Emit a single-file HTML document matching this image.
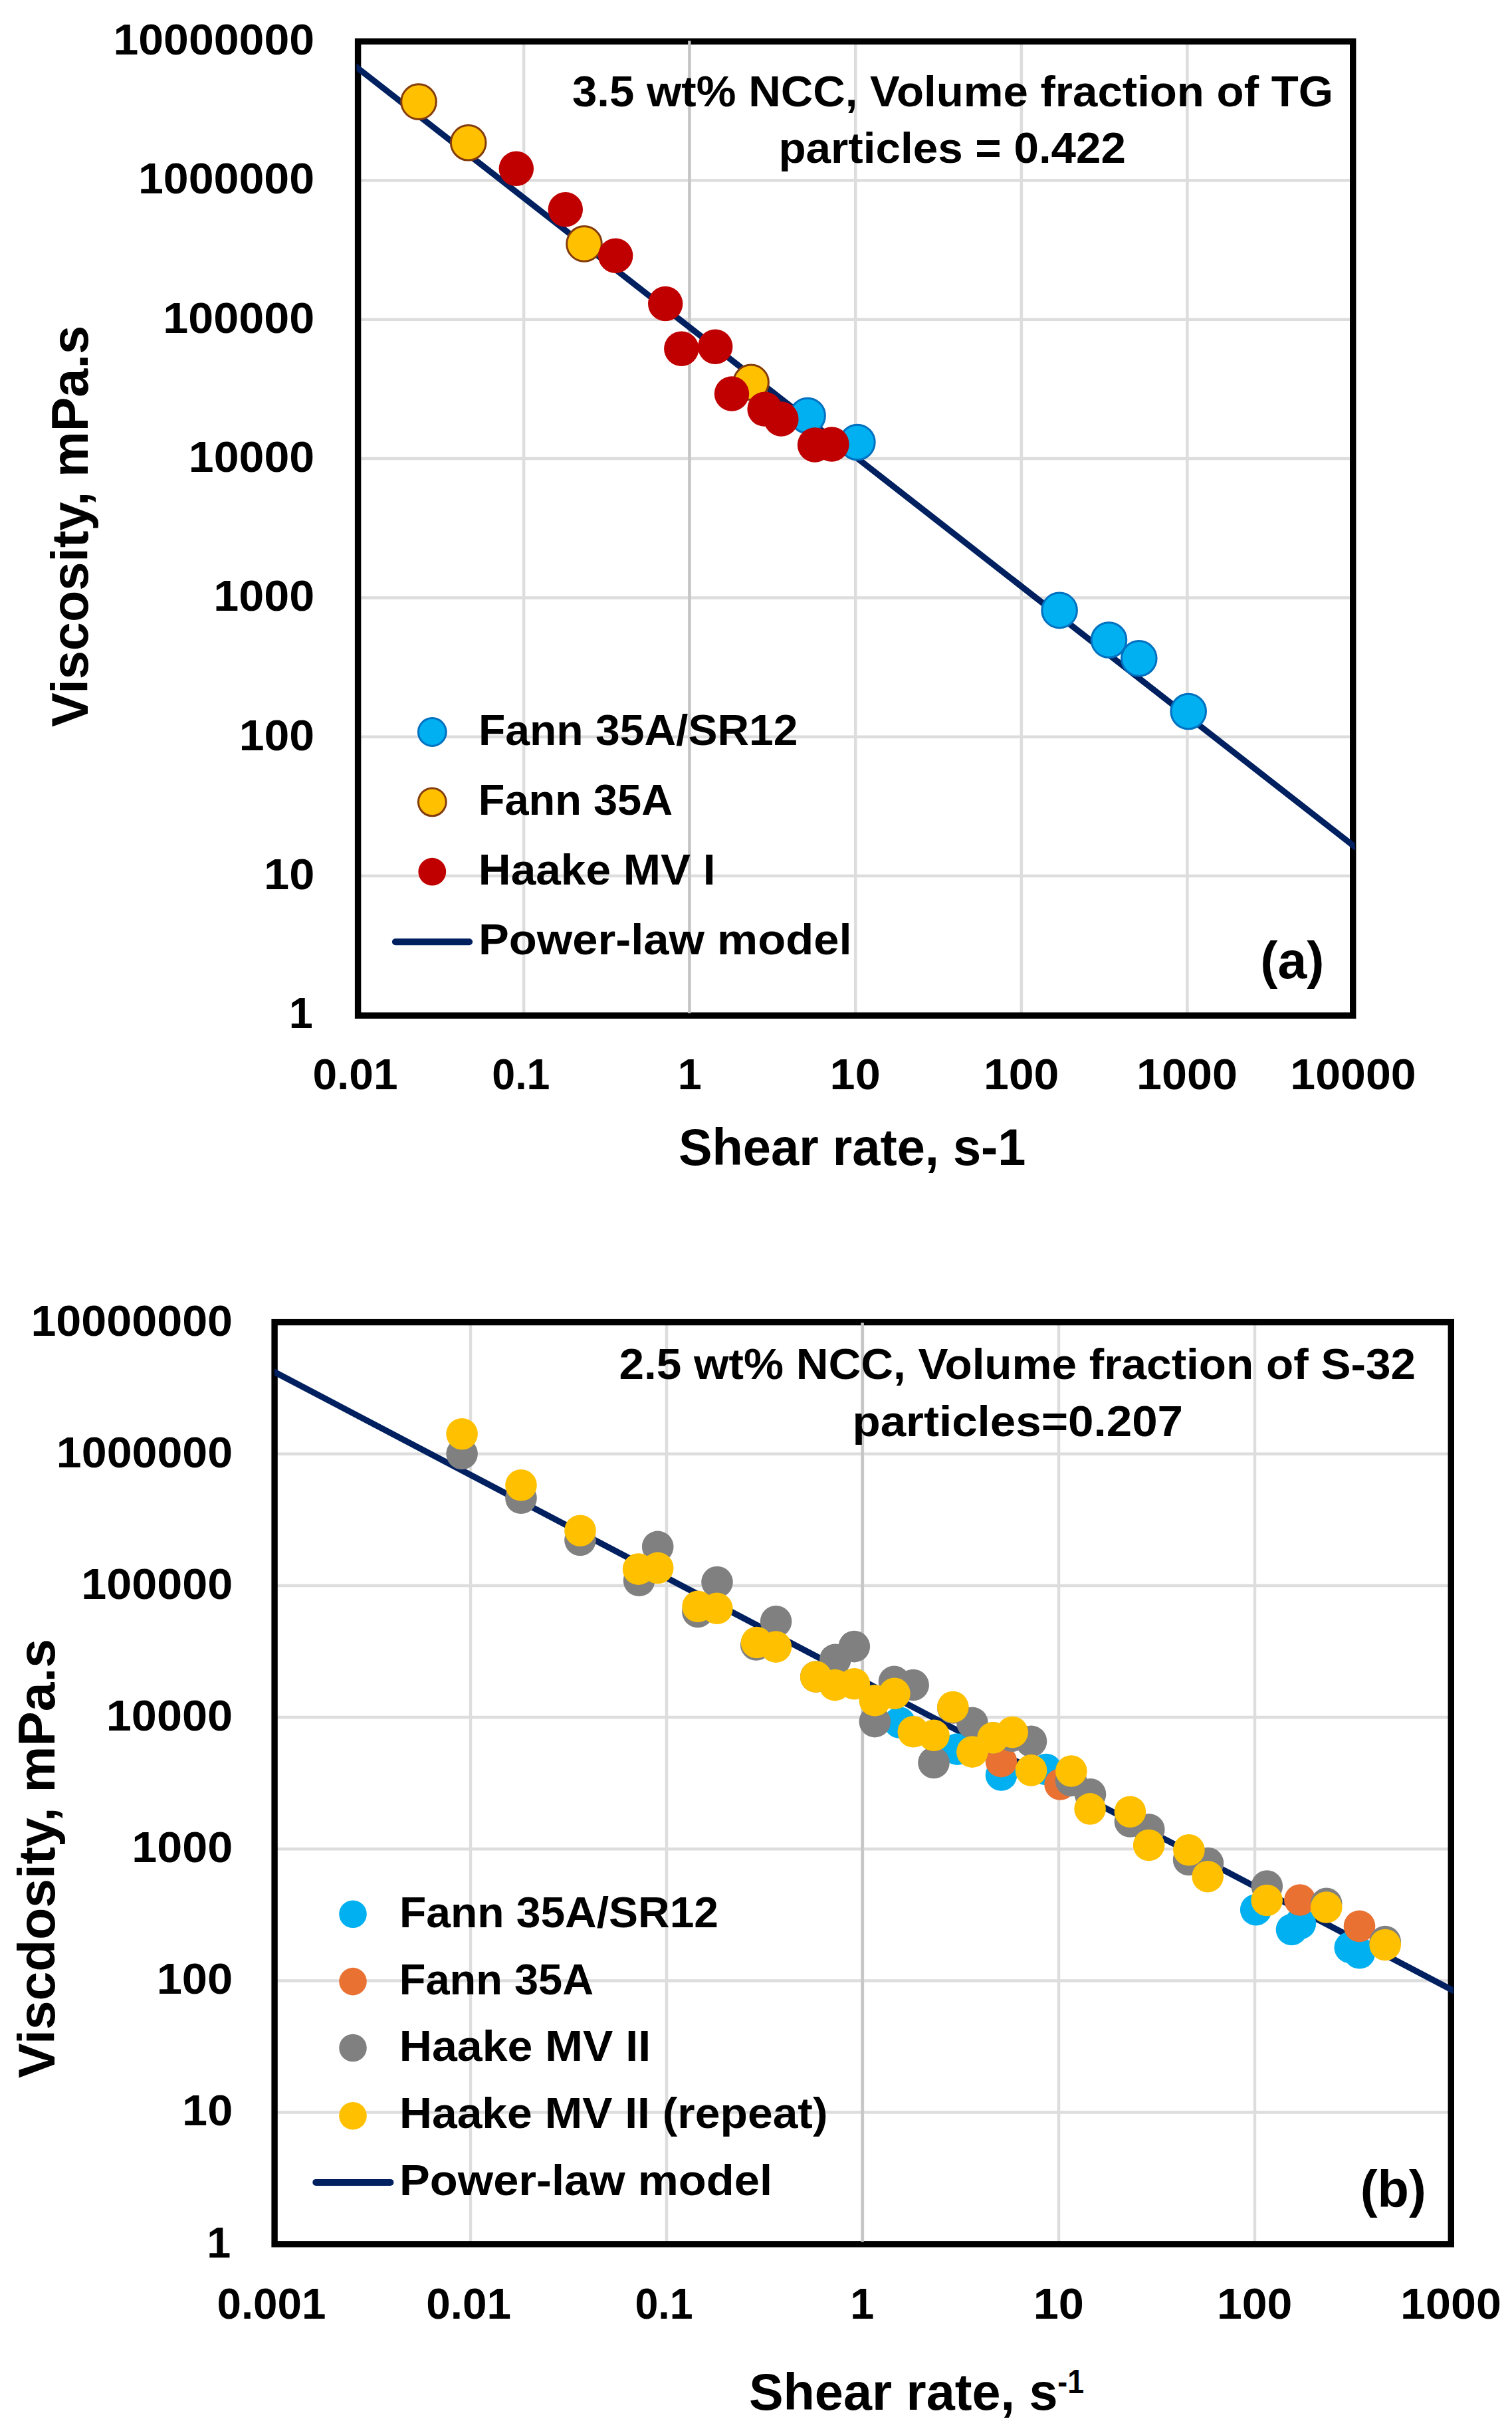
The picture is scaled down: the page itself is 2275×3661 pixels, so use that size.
<!DOCTYPE html>
<html lang="en"><head><meta charset="utf-8"><title>Viscosity vs shear rate</title>
<style>
html,body{margin:0;padding:0;background:#fff}
svg{display:block}
text{font-family:"Liberation Sans", sans-serif;font-weight:bold;fill:#000}
</style></head><body>
<svg width="2275" height="3661" viewBox="0 0 2275 3661">
<rect width="2275" height="3661" fill="#fff"/>
<!-- chart (a) -->
<g stroke="#dddddd" stroke-width="4.5" fill="none">
<line x1="788.1" y1="62" x2="788.1" y2="1527.5"/>
<line x1="1037.7" y1="62" x2="1037.7" y2="1527.5"/>
<line x1="1287.2" y1="62" x2="1287.2" y2="1527.5"/>
<line x1="1536.8" y1="62" x2="1536.8" y2="1527.5"/>
<line x1="1786.4" y1="62" x2="1786.4" y2="1527.5"/>
<line x1="538.5" y1="271.4" x2="2036" y2="271.4"/>
<line x1="538.5" y1="480.7" x2="2036" y2="480.7"/>
<line x1="538.5" y1="690.1" x2="2036" y2="690.1"/>
<line x1="538.5" y1="899.4" x2="2036" y2="899.4"/>
<line x1="538.5" y1="1108.8" x2="2036" y2="1108.8"/>
<line x1="538.5" y1="1318.1" x2="2036" y2="1318.1"/>
</g>
<rect x="538.6" y="62.3" width="1497.1" height="1465.8" fill="none" stroke="#000" stroke-width="9.4"/>
<line x1="1037.3" y1="61.4" x2="1037.3" y2="1524.5" stroke="#c6c6c6" stroke-width="4.3"/>
<clipPath id="ca"><rect x="536.4" y="50" width="1502.3" height="1490"/></clipPath>
<line clip-path="url(#ca)" x1="526.5" y1="93.3" x2="2048" y2="1281.6" stroke="#002060" stroke-width="9.1"/>
<g fill="#00b0f0" stroke="#0070c0" stroke-width="3"><circle cx="1215.1" cy="625.5" r="26.3"/><circle cx="1289.9" cy="665.5" r="26.3"/><circle cx="1594.1" cy="918.4" r="26.3"/><circle cx="1668.5" cy="963" r="26.3"/><circle cx="1713.8" cy="990.8" r="26.3"/><circle cx="1788.2" cy="1070.5" r="26.3"/></g>
<g fill="#ffc000" stroke="#843c0c" stroke-width="3"><circle cx="630" cy="153.1" r="26.3"/><circle cx="704.7" cy="214.8" r="26.3"/><circle cx="879" cy="366.9" r="26.3"/><circle cx="1130.1" cy="575.3" r="26.3"/></g>
<g fill="#c00000"><circle cx="776.8" cy="253.8" r="26.2"/><circle cx="850.8" cy="315.3" r="26.2"/><circle cx="926.2" cy="384.7" r="26.2"/><circle cx="1001.2" cy="457" r="26.2"/><circle cx="1025.3" cy="524.7" r="26.2"/><circle cx="1076.2" cy="521.7" r="26.2"/><circle cx="1101" cy="592.5" r="26.2"/><circle cx="1150.6" cy="615.6" r="26.2"/><circle cx="1175.4" cy="630.5" r="26.2"/><circle cx="1226" cy="669.5" r="26.2"/><circle cx="1251.5" cy="668.5" r="26.2"/></g>
<circle cx="650.3" cy="1101.5" r="20.9" fill="#00b0f0" stroke="#0070c0" stroke-width="3"/>
<circle cx="650.3" cy="1206.8" r="20.9" fill="#ffc000" stroke="#843c0c" stroke-width="3"/>
<circle cx="650.3" cy="1311.7" r="20.9" fill="#c00000"/>
<line x1="594.9" y1="1417.2" x2="706.1" y2="1417.2" stroke="#002060" stroke-width="10" stroke-linecap="round"/>
<!-- chart (b) -->
<g stroke="#dddddd" stroke-width="4.5" fill="none">
<line x1="708" y1="1989.7" x2="708" y2="3376.7"/>
<line x1="1003" y1="1989.7" x2="1003" y2="3376.7"/>
<line x1="1298" y1="1989.7" x2="1298" y2="3376.7"/>
<line x1="1593" y1="1989.7" x2="1593" y2="3376.7"/>
<line x1="1888" y1="1989.7" x2="1888" y2="3376.7"/>
<line x1="413" y1="2187.8" x2="2183" y2="2187.8"/>
<line x1="413" y1="2386" x2="2183" y2="2386"/>
<line x1="413" y1="2584.1" x2="2183" y2="2584.1"/>
<line x1="413" y1="2782.3" x2="2183" y2="2782.3"/>
<line x1="413" y1="2980.4" x2="2183" y2="2980.4"/>
<line x1="413" y1="3178.6" x2="2183" y2="3178.6"/>
</g>
<rect x="413.1" y="1989.6" width="1770.2" height="1387.2" fill="none" stroke="#000" stroke-width="9.4"/>
<line x1="1297.6" y1="1990.5" x2="1297.6" y2="3373.5" stroke="#c6c6c6" stroke-width="4.5"/>
<clipPath id="cb"><rect x="413" y="1980" width="1773.8" height="1410"/></clipPath>
<line clip-path="url(#cb)" x1="401" y1="2058.2" x2="2195" y2="2999.7" stroke="#002060" stroke-width="9.2"/>
<g fill="#00b0f0"><circle cx="1353.5" cy="2592" r="23.8"/><circle cx="1440.4" cy="2632.1" r="23.8"/><circle cx="1506.5" cy="2671" r="23.8"/><circle cx="1574" cy="2662.5" r="23.8"/><circle cx="1889.7" cy="2873.7" r="23.8"/><circle cx="1943.5" cy="2903.5" r="23.8"/><circle cx="1956.4" cy="2894.4" r="23.8"/><circle cx="2031.3" cy="2930.5" r="23.8"/><circle cx="2045.5" cy="2938.8" r="23.8"/></g>
<g fill="#e97132"><circle cx="1506.5" cy="2650.6" r="23.8"/><circle cx="1595.1" cy="2685" r="23.8"/><circle cx="1955.9" cy="2859" r="23.8"/><circle cx="2045.5" cy="2898.4" r="23.8"/></g>
<g fill="#808080"><circle cx="695.1" cy="2187.5" r="23.8"/><circle cx="784" cy="2254.3" r="23.8"/><circle cx="873" cy="2317.4" r="23.8"/><circle cx="961.6" cy="2378.3" r="23.8"/><circle cx="989.7" cy="2327.4" r="23.8"/><circle cx="1049.9" cy="2425.4" r="23.8"/><circle cx="1079" cy="2380.6" r="23.8"/><circle cx="1137.7" cy="2475" r="23.8"/><circle cx="1167.6" cy="2439.8" r="23.8"/><circle cx="1227.7" cy="2523.1" r="23.8"/><circle cx="1256.8" cy="2497.2" r="23.8"/><circle cx="1285.3" cy="2477.6" r="23.8"/><circle cx="1316.3" cy="2590.6" r="23.8"/><circle cx="1345.5" cy="2530.3" r="23.8"/><circle cx="1374.1" cy="2535.5" r="23.8"/><circle cx="1405" cy="2652.4" r="23.8"/><circle cx="1433.8" cy="2570" r="23.8"/><circle cx="1462.9" cy="2592.4" r="23.8"/><circle cx="1494.1" cy="2614.9" r="23.8"/><circle cx="1522.4" cy="2612.3" r="23.8"/><circle cx="1551.5" cy="2620.2" r="23.8"/><circle cx="1611.5" cy="2679.5" r="23.8"/><circle cx="1640.5" cy="2699.8" r="23.8"/><circle cx="1700.4" cy="2741" r="23.8"/><circle cx="1728.8" cy="2752.9" r="23.8"/><circle cx="1788.6" cy="2798.4" r="23.8"/><circle cx="1817.5" cy="2803.5" r="23.8"/><circle cx="1906.3" cy="2838.1" r="23.8"/><circle cx="1995.7" cy="2864.3" r="23.8"/><circle cx="2084.2" cy="2921.5" r="23.8"/></g>
<g fill="#ffc000"><circle cx="695.1" cy="2157.7" r="23.8"/><circle cx="784" cy="2234.8" r="23.8"/><circle cx="873" cy="2303.2" r="23.8"/><circle cx="960.6" cy="2361.1" r="23.8"/><circle cx="989.7" cy="2359.4" r="23.8"/><circle cx="1050.1" cy="2417.3" r="23.8"/><circle cx="1078.8" cy="2420.3" r="23.8"/><circle cx="1138.5" cy="2471.5" r="23.8"/><circle cx="1167.4" cy="2478.1" r="23.8"/><circle cx="1227.7" cy="2523.1" r="23.8"/><circle cx="1256.2" cy="2535.6" r="23.8"/><circle cx="1285.3" cy="2533.7" r="23.8"/><circle cx="1316.3" cy="2558.8" r="23.8"/><circle cx="1345.9" cy="2548.3" r="23.8"/><circle cx="1374.3" cy="2605.8" r="23.8"/><circle cx="1405" cy="2611.3" r="23.8"/><circle cx="1433.8" cy="2568.6" r="23.8"/><circle cx="1462.9" cy="2636.1" r="23.8"/><circle cx="1494.1" cy="2614.9" r="23.8"/><circle cx="1523.2" cy="2606.5" r="23.8"/><circle cx="1551.5" cy="2663.9" r="23.8"/><circle cx="1611.8" cy="2665" r="23.8"/><circle cx="1640.1" cy="2721.9" r="23.8"/><circle cx="1700.4" cy="2726.2" r="23.8"/><circle cx="1728.6" cy="2776.5" r="23.8"/><circle cx="1788.9" cy="2783.8" r="23.8"/><circle cx="1817.2" cy="2823.7" r="23.8"/><circle cx="1906.2" cy="2859.5" r="23.8"/><circle cx="1995.7" cy="2870" r="23.8"/><circle cx="2084.2" cy="2926.5" r="23.8"/></g>
<circle cx="531" cy="2880.2" r="20.8" fill="#00b0f0"/>
<circle cx="531" cy="2981.6" r="20.8" fill="#e97132"/>
<circle cx="531" cy="3081.5" r="20.8" fill="#808080"/>
<circle cx="531" cy="3183.7" r="20.8" fill="#ffc000"/>
<line x1="475.3" y1="3283.9" x2="587.4" y2="3283.9" stroke="#002060" stroke-width="10" stroke-linecap="round"/>
<!-- text -->
<text x="170.42" y="81.8" font-size="64" textLength="302.64" lengthAdjust="spacingAndGlyphs">10000000</text>
<text x="207.9" y="291.16" font-size="64" textLength="265.17" lengthAdjust="spacingAndGlyphs">1000000</text>
<text x="245.37" y="500.51" font-size="64" textLength="227.72" lengthAdjust="spacingAndGlyphs">100000</text>
<text x="283.85" y="709.87" font-size="64" textLength="189.24" lengthAdjust="spacingAndGlyphs">10000</text>
<text x="321.3" y="919.23" font-size="64" textLength="151.83" lengthAdjust="spacingAndGlyphs">1000</text>
<text x="359.73" y="1128.59" font-size="64" textLength="113.43" lengthAdjust="spacingAndGlyphs">100</text>
<text x="397.04" y="1337.94" font-size="64" textLength="76.25" lengthAdjust="spacingAndGlyphs">10</text>
<text x="434.8" y="1547.3" font-size="64" textLength="36" lengthAdjust="spacingAndGlyphs">1</text>
<text x="470.42" y="1639.3" font-size="64" textLength="128.14" lengthAdjust="spacingAndGlyphs">0.01</text>
<text x="740.29" y="1639.3" font-size="64" textLength="87.2" lengthAdjust="spacingAndGlyphs">0.1</text>
<text x="1019.8" y="1639.3" font-size="64" textLength="36" lengthAdjust="spacingAndGlyphs">1</text>
<text x="1248.62" y="1639.3" font-size="64" textLength="76.13" lengthAdjust="spacingAndGlyphs">10</text>
<text x="1479.92" y="1639.3" font-size="64" textLength="113.42" lengthAdjust="spacingAndGlyphs">100</text>
<text x="1710.12" y="1639.3" font-size="64" textLength="151.83" lengthAdjust="spacingAndGlyphs">1000</text>
<text x="1941.36" y="1639.3" font-size="64" textLength="189.24" lengthAdjust="spacingAndGlyphs">10000</text>
<text x="860.99" y="159.8" font-size="64" textLength="1145.03" lengthAdjust="spacingAndGlyphs">3.5 wt% NCC, Volume fraction of TG</text>
<text x="1171.44" y="244.8" font-size="64" textLength="522.59" lengthAdjust="spacingAndGlyphs">particles = 0.422</text>
<text x="719.93" y="1121.2" font-size="64" textLength="480.6" lengthAdjust="spacingAndGlyphs">Fann 35A/SR12</text>
<text x="719.89" y="1226.4" font-size="64" textLength="292.15" lengthAdjust="spacingAndGlyphs">Fann 35A</text>
<text x="719.87" y="1331.3" font-size="64" textLength="356.75" lengthAdjust="spacingAndGlyphs">Haake MV I</text>
<text x="719.92" y="1436" font-size="64" textLength="561.66" lengthAdjust="spacingAndGlyphs">Power-law model</text>
<text x="1896.19" y="1471.5" font-size="77" textLength="96.15" lengthAdjust="spacingAndGlyphs">(a)</text>
<text x="1020.98" y="1753.3" font-size="78" textLength="522.54" lengthAdjust="spacingAndGlyphs">Shear rate, s-1</text>
<text transform="translate(132 1094.01) rotate(-90)" font-size="78" textLength="604.03" lengthAdjust="spacingAndGlyphs">Viscosity, mPa.s</text>
<text x="46.4" y="2009.5" font-size="64" textLength="303.66" lengthAdjust="spacingAndGlyphs">10000000</text>
<text x="84.89" y="2207.64" font-size="64" textLength="265.2" lengthAdjust="spacingAndGlyphs">1000000</text>
<text x="122.36" y="2405.79" font-size="64" textLength="227.75" lengthAdjust="spacingAndGlyphs">100000</text>
<text x="159.81" y="2603.93" font-size="64" textLength="190.28" lengthAdjust="spacingAndGlyphs">10000</text>
<text x="198.27" y="2802.07" font-size="64" textLength="151.89" lengthAdjust="spacingAndGlyphs">1000</text>
<text x="235.66" y="3000.21" font-size="64" textLength="114.58" lengthAdjust="spacingAndGlyphs">100</text>
<text x="274.1" y="3198.36" font-size="64" textLength="76.13" lengthAdjust="spacingAndGlyphs">10</text>
<text x="311.24" y="3396.5" font-size="64" textLength="36" lengthAdjust="spacingAndGlyphs">1</text>
<text x="326.42" y="3488.6" font-size="64" textLength="164.13" lengthAdjust="spacingAndGlyphs">0.001</text>
<text x="641.38" y="3488.6" font-size="64" textLength="127.71" lengthAdjust="spacingAndGlyphs">0.01</text>
<text x="955.38" y="3488.6" font-size="64" textLength="87.2" lengthAdjust="spacingAndGlyphs">0.1</text>
<text x="1279.36" y="3488.6" font-size="64" textLength="36" lengthAdjust="spacingAndGlyphs">1</text>
<text x="1554.66" y="3488.6" font-size="64" textLength="76.24" lengthAdjust="spacingAndGlyphs">10</text>
<text x="1830.92" y="3488.6" font-size="64" textLength="113.42" lengthAdjust="spacingAndGlyphs">100</text>
<text x="2107.06" y="3488.6" font-size="64" textLength="151.83" lengthAdjust="spacingAndGlyphs">1000</text>
<text x="931.49" y="2075.4" font-size="64" textLength="1198.52" lengthAdjust="spacingAndGlyphs">2.5 wt% NCC, Volume fraction of S-32</text>
<text x="1282.42" y="2161.3" font-size="64" textLength="497.63" lengthAdjust="spacingAndGlyphs">particles=0.207</text>
<text x="600.93" y="2899.6" font-size="64" textLength="480.11" lengthAdjust="spacingAndGlyphs">Fann 35A/SR12</text>
<text x="600.89" y="3000.6" font-size="64" textLength="292.15" lengthAdjust="spacingAndGlyphs">Fann 35A</text>
<text x="600.88" y="3100.6" font-size="64" textLength="378.22" lengthAdjust="spacingAndGlyphs">Haake MV II</text>
<text x="600.94" y="3201.8" font-size="64" textLength="644.6" lengthAdjust="spacingAndGlyphs">Haake MV II (repeat)</text>
<text x="600.92" y="3303" font-size="64" textLength="561.17" lengthAdjust="spacingAndGlyphs">Power-law model</text>
<text x="2046.69" y="3321" font-size="77" textLength="99.13" lengthAdjust="spacingAndGlyphs">(b)</text>
<text x="1126.97" y="3625.5" font-size="78" textLength="464.57" lengthAdjust="spacingAndGlyphs">Shear rate, s</text>
<text x="1591.35" y="3601" font-size="50" textLength="39.74" lengthAdjust="spacingAndGlyphs">-1</text>
<text transform="translate(82.2 3127.01) rotate(-90)" font-size="78" textLength="661.03" lengthAdjust="spacingAndGlyphs">Viscdosity, mPa.s</text>
</svg>
</body></html>
